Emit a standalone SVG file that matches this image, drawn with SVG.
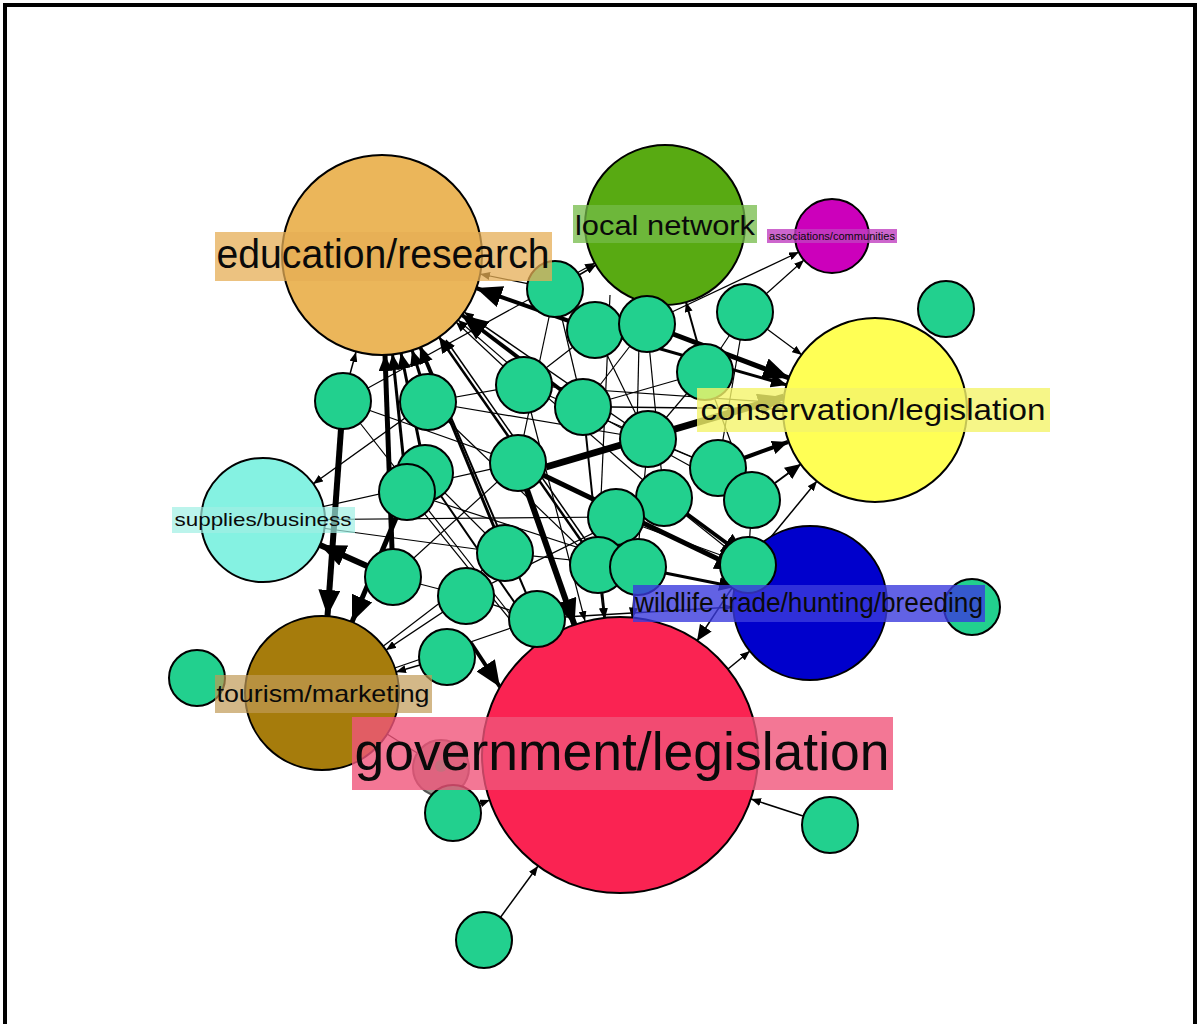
<svg xmlns="http://www.w3.org/2000/svg" width="1200" height="1024" viewBox="0 0 1200 1024">
<defs>
<style>
.e{stroke:#000;fill:none}
.n{stroke:#000;stroke-width:2}
.sm{fill:#22D08E;stroke:#000;stroke-width:2}
.lb{font-family:"Liberation Sans",Arial,sans-serif;fill:#0a0a0a}
</style>
<marker id="s" viewBox="0 0 10 8" refX="10" refY="4" markerWidth="10" markerHeight="8" markerUnits="userSpaceOnUse" orient="auto"><path d="M0,0L10,4L0,8z"/></marker>
<marker id="m" viewBox="0 0 16 14" refX="16" refY="7" markerWidth="16" markerHeight="14" markerUnits="userSpaceOnUse" orient="auto"><path d="M0,0L16,7L0,14z"/></marker>
<marker id="l" viewBox="0 0 26 22" refX="26" refY="11" markerWidth="26" markerHeight="22" markerUnits="userSpaceOnUse" orient="auto"><path d="M0,0L26,11L0,22z"/></marker>
</defs>
<rect x="0" y="0" width="1200" height="1024" fill="#fff"/>
<rect x="5" y="5" width="1190" height="1040" fill="none" stroke="#000" stroke-width="4"/>

<g id="connectors">
<g class="e" stroke-width="1.2">
<line x1="263" y1="520" x2="518" y2="463"/>
<line x1="263" y1="520" x2="505" y2="553"/>
<line x1="263" y1="520" x2="616" y2="517"/>
<line x1="322" y1="693" x2="505" y2="553"/>
<line x1="322" y1="693" x2="537" y2="619"/>
<line x1="428" y1="402" x2="648" y2="439"/>
<line x1="524" y1="385" x2="718" y2="468"/>
<line x1="583" y1="407" x2="752" y2="500"/>
<line x1="647" y1="324" x2="664" y2="498"/>
<line x1="555" y1="289" x2="583" y2="407"/>
<line x1="595" y1="330" x2="524" y2="385"/>
<line x1="705" y1="372" x2="648" y2="439"/>
<line x1="705" y1="372" x2="583" y2="407"/>
<line x1="745" y1="312" x2="705" y2="372"/>
<line x1="745" y1="312" x2="718" y2="468"/>
<line x1="425" y1="473" x2="505" y2="553"/>
<line x1="393" y1="577" x2="466" y2="596"/>
<line x1="466" y1="596" x2="537" y2="619"/>
<line x1="505" y1="553" x2="638" y2="567"/>
<line x1="616" y1="517" x2="748" y2="565"/>
<line x1="664" y1="498" x2="748" y2="565"/>
<line x1="718" y1="468" x2="648" y2="439"/>
<line x1="752" y1="500" x2="748" y2="565"/>
<line x1="518" y1="463" x2="393" y2="577"/>
<line x1="343" y1="401" x2="518" y2="463"/>
<line x1="428" y1="402" x2="524" y2="385"/>
<line x1="647" y1="324" x2="583" y2="407"/>
<line x1="595" y1="330" x2="648" y2="439"/>
<line x1="555" y1="289" x2="518" y2="463"/>
<line x1="705" y1="372" x2="752" y2="500"/>
<line x1="640" y1="300" x2="637" y2="430"/>
<line x1="610" y1="295" x2="598" y2="565"/>
<line x1="428" y1="402" x2="598" y2="565"/>
<line x1="407" y1="492" x2="638" y2="567"/>
<line x1="466" y1="596" x2="664" y2="498"/>
<line x1="322" y1="693" x2="441" y2="768"/>
</g>
<g class="e">
<line x1="803" y1="816" x2="751" y2="799" stroke-width="1.5" marker-end="url(#s)"/>
<line x1="500" y1="918" x2="538" y2="866" stroke-width="1.5" marker-end="url(#s)"/>
<line x1="479" y1="804" x2="490" y2="800" stroke-width="1.2" marker-end="url(#s)"/>
<line x1="766" y1="294" x2="804" y2="260" stroke-width="1.2" marker-end="url(#s)"/>
<line x1="672" y1="312" x2="799" y2="252" stroke-width="1.2" marker-end="url(#s)"/>
<line x1="767" y1="329" x2="802" y2="355" stroke-width="1.2" marker-end="url(#s)"/>
<line x1="698" y1="345" x2="686" y2="302" stroke-width="2" marker-end="url(#s)"/>
<line x1="673" y1="334" x2="789" y2="378" stroke-width="5" marker-end="url(#l)"/>
<line x1="622" y1="338" x2="787" y2="385" stroke-width="3" marker-end="url(#m)"/>
<line x1="611" y1="407" x2="783" y2="409" stroke-width="1.5" marker-end="url(#s)"/>
<line x1="552" y1="387" x2="783" y2="403" stroke-width="1.2" marker-end="url(#s)"/>
<line x1="546" y1="467" x2="784" y2="397" stroke-width="7" marker-end="url(#l)"/>
<line x1="744" y1="458" x2="788" y2="442" stroke-width="4" marker-end="url(#m)"/>
<line x1="775" y1="483" x2="801" y2="464" stroke-width="2" marker-end="url(#m)"/>
<line x1="766" y1="543" x2="817" y2="481" stroke-width="1.5" marker-end="url(#s)"/>
<line x1="543" y1="475" x2="741" y2="570" stroke-width="5" marker-end="url(#l)"/>
<line x1="687" y1="514" x2="747" y2="558" stroke-width="4" marker-end="url(#l)"/>
<line x1="665" y1="573" x2="735" y2="587" stroke-width="3" marker-end="url(#m)"/>
<line x1="565" y1="617" x2="733" y2="607" stroke-width="1.5" marker-end="url(#s)"/>
<line x1="732" y1="588" x2="697" y2="641" stroke-width="1.5" marker-end="url(#m)"/>
<line x1="728" y1="669" x2="750" y2="651" stroke-width="1.5" marker-end="url(#s)"/>
<line x1="420" y1="665" x2="396" y2="672" stroke-width="1.5" marker-end="url(#s)"/>
<line x1="443" y1="612" x2="386" y2="650" stroke-width="1.5" marker-end="url(#s)"/>
<line x1="471" y1="643" x2="500" y2="687" stroke-width="4" marker-end="url(#l)"/>
<line x1="341" y1="429" x2="327.5" y2="616" stroke-width="6" marker-end="url(#l)"/>
<line x1="396" y1="518" x2="352" y2="622" stroke-width="5" marker-end="url(#l)"/>
<line x1="367" y1="566" x2="320" y2="545" stroke-width="6" marker-end="url(#l)"/>
<line x1="405" y1="418" x2="313" y2="484" stroke-width="1.5" marker-end="url(#s)"/>
<line x1="350" y1="374" x2="356" y2="352" stroke-width="1.5" marker-end="url(#s)"/>
<line x1="420" y1="375" x2="412" y2="350" stroke-width="3" marker-end="url(#m)"/>
<line x1="392" y1="549" x2="385" y2="355" stroke-width="5" marker-end="url(#m)"/>
<line x1="404" y1="464" x2="392.5" y2="354" stroke-width="3" marker-end="url(#m)"/>
<line x1="420" y1="446" x2="401" y2="353" stroke-width="3" marker-end="url(#m)"/>
<line x1="494" y1="527" x2="420" y2="347.5" stroke-width="3" marker-end="url(#m)"/>
<line x1="582" y1="542" x2="439" y2="337" stroke-width="2.5" marker-end="url(#m)"/>
<line x1="587" y1="542" x2="446" y2="340" stroke-width="1.5" marker-end="url(#s)"/>
<line x1="526" y1="593" x2="421" y2="347" stroke-width="2" marker-end="url(#s)"/>
<line x1="527.5" y1="283.6" x2="480" y2="274" stroke-width="1.2" marker-end="url(#s)"/>
<line x1="569" y1="321" x2="476" y2="288" stroke-width="4" marker-end="url(#l)"/>
<line x1="561" y1="390" x2="462" y2="315" stroke-width="4" marker-end="url(#l)"/>
<line x1="625" y1="423" x2="464" y2="312" stroke-width="1.5" marker-end="url(#s)"/>
<line x1="643" y1="480" x2="458" y2="320" stroke-width="1.2" marker-end="url(#s)"/>
<line x1="503" y1="366" x2="456" y2="322" stroke-width="1.2" marker-end="url(#s)"/>
<line x1="368" y1="388" x2="595" y2="263" stroke-width="1.2" marker-end="url(#s)"/>
<line x1="527" y1="490" x2="574.5" y2="625" stroke-width="6" marker-end="url(#l)"/>
<line x1="531" y1="412" x2="585" y2="621" stroke-width="1.2" marker-end="url(#s)"/>
<line x1="586" y1="435" x2="605" y2="618" stroke-width="2" marker-end="url(#s)"/>
<line x1="645.5" y1="467" x2="632" y2="617.5" stroke-width="1.2" marker-end="url(#s)"/>
<line x1="441" y1="496" x2="541.5" y2="641.6" stroke-width="2" marker-end="url(#s)"/>
<line x1="424.6" y1="513.8" x2="533" y2="648" stroke-width="1.2" marker-end="url(#s)"/>
<line x1="360" y1="423" x2="535" y2="646" stroke-width="1.2" marker-end="url(#s)"/>
<line x1="601" y1="593" x2="604" y2="618" stroke-width="1.5" marker-end="url(#s)"/>
<line x1="635" y1="595" x2="633" y2="618" stroke-width="1.5" marker-end="url(#s)"/>
<line x1="579" y1="275" x2="596" y2="265" stroke-width="1.5" marker-end="url(#s)"/>
</g>
</g>

<g id="node-education"><circle class="n" cx="382" cy="255" r="100" fill="#EBB65A"/></g>
<g id="node-local"><circle class="n" cx="665" cy="225" r="80" fill="#58AA12"/></g>
<g id="node-assoc"><circle class="n" cx="832" cy="236" r="37" fill="#CC00BB"/></g>
<g id="node-conservation"><circle class="n" cx="875" cy="410" r="92" fill="#FFFF55"/></g>
<g id="node-supplies"><circle class="n" cx="263" cy="520" r="62" fill="#85F2E2"/></g>
<g id="node-wildlife"><circle class="n" cx="810" cy="603" r="77" fill="#0000CC"/></g>
<g id="node-tourism"><circle class="n" cx="322" cy="693" r="77" fill="#A67C0C"/></g>
<g id="node-government"><circle class="n" cx="620" cy="755" r="138" fill="#FA2352"/></g>

<g id="small-nodes">
<g id="n1"><circle class="sm" cx="555" cy="289" r="28"/></g>
<g id="n2"><circle class="sm" cx="595" cy="330" r="28"/></g>
<g id="n3"><circle class="sm" cx="647" cy="324" r="28"/></g>
<g id="n4"><circle class="sm" cx="745" cy="312" r="28"/></g>
<g id="n5"><circle class="sm" cx="946" cy="309" r="28"/></g>
<g id="n6"><circle class="sm" cx="343" cy="401" r="28"/></g>
<g id="n7"><circle class="sm" cx="428" cy="402" r="28"/></g>
<g id="n8"><circle class="sm" cx="524" cy="385" r="28"/></g>
<g id="n9"><circle class="sm" cx="583" cy="407" r="28"/></g>
<g id="n10"><circle class="sm" cx="705" cy="372" r="28"/></g>
<g id="n11"><circle class="sm" cx="648" cy="439" r="28"/></g>
<g id="n12"><circle class="sm" cx="518" cy="463" r="28"/></g>
<g id="n13"><circle class="sm" cx="425" cy="473" r="28"/></g>
<g id="n14"><circle class="sm" cx="407" cy="492" r="28"/></g>
<g id="n15"><circle class="sm" cx="718" cy="468" r="28"/></g>
<g id="n16"><circle class="sm" cx="752" cy="500" r="28"/></g>
<g id="n17"><circle class="sm" cx="664" cy="498" r="28"/></g>
<g id="n18"><circle class="sm" cx="616" cy="517" r="28"/></g>
<g id="n19"><circle class="sm" cx="505" cy="553" r="28"/></g>
<g id="n20"><circle class="sm" cx="393" cy="577" r="28"/></g>
<g id="n21"><circle class="sm" cx="466" cy="596" r="28"/></g>
<g id="n22"><circle class="sm" cx="537" cy="619" r="28"/></g>
<g id="n23"><circle class="sm" cx="598" cy="565" r="28"/></g>
<g id="n24"><circle class="sm" cx="638" cy="567" r="28"/></g>
<g id="n25"><circle class="sm" cx="748" cy="565" r="28"/></g>
<g id="n26"><circle class="sm" cx="972" cy="607" r="28"/></g>
<g id="n27"><circle class="sm" cx="447" cy="657" r="28"/></g>
<g id="n28"><circle class="sm" cx="197" cy="678" r="28"/></g>
<g id="n29"><circle cx="441" cy="768" r="28" fill="#9A9A90" stroke="#555" stroke-width="2"/><circle cx="441" cy="766" r="6" fill="#22D08E"/></g>
<g id="n30"><circle class="sm" cx="453" cy="813" r="28"/></g>
<g id="n31"><circle class="sm" cx="830" cy="825" r="28"/></g>
<g id="n32"><circle class="sm" cx="484" cy="940" r="28"/></g>
</g>

<g id="labels">
<g id="label-education"><rect x="215" y="232" width="337" height="49" fill="#E6AE55" fill-opacity="0.75"/><text class="lb" x="383" y="268" font-size="40" text-anchor="middle" textLength="333" lengthAdjust="spacingAndGlyphs">education/research</text></g>
<g id="label-local"><rect x="573" y="205" width="184" height="38" fill="#74BB48" fill-opacity="0.75"/><text class="lb" x="665" y="235" font-size="28" text-anchor="middle" textLength="180" lengthAdjust="spacingAndGlyphs">local network</text></g>
<g id="label-assoc"><rect x="767" y="229" width="130" height="14" fill="#C040C0" fill-opacity="0.8"/><text class="lb" x="832" y="240" font-size="11" text-anchor="middle" textLength="126" lengthAdjust="spacingAndGlyphs" fill="#502050">associations/communities</text></g>
<g id="label-conservation"><rect x="697" y="388" width="353" height="44" fill="#F4F46A" fill-opacity="0.8"/><text class="lb" x="873" y="420" font-size="30" text-anchor="middle" textLength="345" lengthAdjust="spacingAndGlyphs">conservation/legislation</text></g>
<g id="label-supplies"><rect x="172" y="507" width="183" height="26" fill="#9FF0E4" fill-opacity="0.7"/><text class="lb" x="263" y="526" font-size="19" text-anchor="middle" textLength="177" lengthAdjust="spacingAndGlyphs" fill="#224444">supplies/business</text></g>
<g id="label-wildlife"><rect x="633" y="585" width="352" height="37" fill="#3B3BDD" fill-opacity="0.8"/><text class="lb" x="809" y="612" font-size="28" text-anchor="middle" textLength="348" lengthAdjust="spacingAndGlyphs" fill="#0c0c48">wildlife trade/hunting/breeding</text></g>
<g id="label-tourism"><rect x="215" y="675" width="217" height="38" fill="#C09A55" fill-opacity="0.7"/><text class="lb" x="323" y="702" font-size="24" text-anchor="middle" textLength="213" lengthAdjust="spacingAndGlyphs" fill="#2a2010">tourism/marketing</text></g>
<g id="label-government"><rect x="352" y="717" width="541" height="73" fill="#F0557A" fill-opacity="0.8"/><text class="lb" x="622" y="770" font-size="54" text-anchor="middle" textLength="535" lengthAdjust="spacingAndGlyphs">government/legislation</text></g>
</g>
</svg>
